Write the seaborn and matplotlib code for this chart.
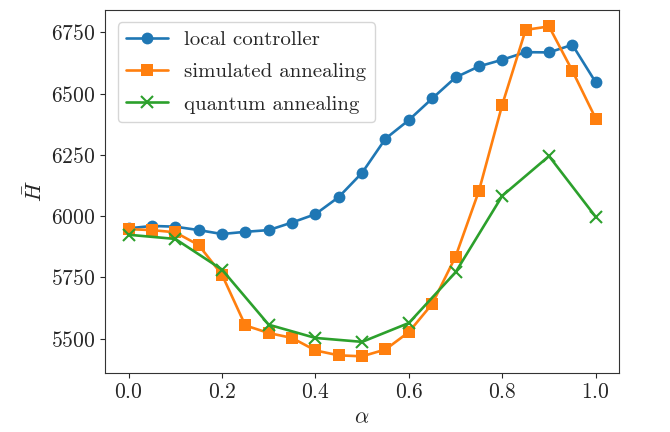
import numpy as np
import pandas as pd
import seaborn as sns
import matplotlib.pyplot as plt

# Mean energy H-bar against alpha for three solvers

alpha_fine = [0.0, 0.05, 0.1, 0.15, 0.2, 0.25, 0.3, 0.35, 0.4, 0.45, 0.5,
              0.55, 0.6, 0.65, 0.7, 0.75, 0.8, 0.85, 0.9, 0.95, 1.0]
alpha_coarse = [0.0, 0.1, 0.2, 0.3, 0.4, 0.5, 0.6, 0.7, 0.8, 0.9, 1.0]

local_controller = [5950, 5960, 5957, 5943, 5927, 5936, 5943, 5974, 6008, 6078, 6177,
                    6316, 6392, 6480, 6566, 6611, 6638, 6669, 6668, 6699, 6546]
simulated_annealing = [5947, 5943, 5934, 5882, 5761, 5554, 5523, 5503, 5452, 5432, 5428,
                       5456, 5527, 5642, 5835, 6103, 6455, 6760, 6774, 6593, 6398]
quantum_annealing = [5924, 5907, 5782, 5557, 5503, 5487, 5564, 5771, 6083, 6245, 5997]

sns.set_style("ticks")
plt.rcParams['font.family'] = ['cmr10', 'DejaVu Serif']
plt.rcParams['mathtext.fontset'] = 'cm'
plt.rcParams['axes.formatter.use_mathtext'] = True

colors = sns.color_palette("tab10")

fig, ax = plt.subplots(figsize=(6.7, 4.32), dpi=100)
fig.subplots_adjust(left=0.157, right=0.924, bottom=0.137, top=0.977)

sns.lineplot(x=alpha_fine, y=local_controller, marker='o', markersize=8.5,
             markeredgewidth=0, linewidth=1.9, color=colors[0],
             label='local controller', ax=ax)
sns.lineplot(x=alpha_fine, y=simulated_annealing, marker='s', markersize=8.5,
             markeredgewidth=0, linewidth=1.9, color=colors[1],
             label='simulated annealing', ax=ax)
sns.lineplot(x=alpha_coarse, y=quantum_annealing, marker='x', markersize=8,
             markeredgewidth=1.5, markeredgecolor=colors[2], linewidth=1.9,
             color=colors[2], label='quantum annealing', ax=ax)

ax.set_xlabel(r'$\alpha$', fontsize=16)
ax.set_ylabel(r'$\bar{H}$', fontsize=16)
ax.set_xticks([0.0, 0.2, 0.4, 0.6, 0.8, 1.0])
ax.set_yticks([5500, 5750, 6000, 6250, 6500, 6750])
ax.tick_params(labelsize=15.5)
for s in ax.spines.values():
    s.set_color('#333333')

ax.legend(loc='upper left', fontsize=15, frameon=True, edgecolor='#cccccc',
          labelspacing=0.65, borderaxespad=0.6)

fig.savefig('out.png', dpi=100)
